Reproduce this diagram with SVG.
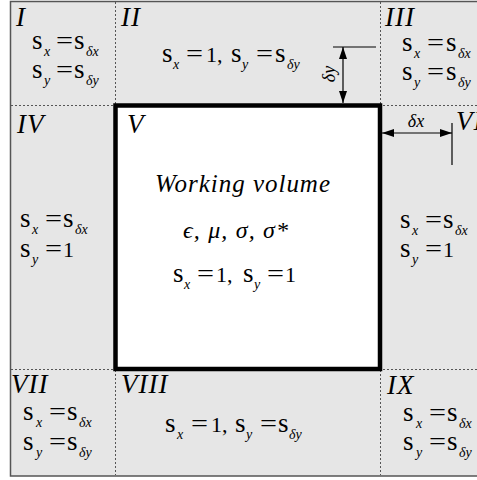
<svg xmlns="http://www.w3.org/2000/svg" width="477" height="480" viewBox="0 0 477 480">
<style>
text{font-family:"Liberation Serif","DejaVu Serif",serif;fill:#000}
.s{font-size:27px}
.d{font-size:22px}
.eq{font-size:25px}
.sb{font-size:14px;font-style:italic}
.rn{font-size:27px;font-style:italic;letter-spacing:1px}
.t{font-size:25px;font-style:italic}
.g{font-size:24px;font-style:italic}
.dim{font-size:18px;font-style:italic}
.dot{stroke:#555;stroke-width:1;stroke-dasharray:2 2;fill:none}
.ln{stroke:#000;stroke-width:1.2;fill:none}
</style>
<defs>
<marker id="ah" viewBox="0 0 12 8" refX="12" refY="4" markerWidth="12" markerHeight="8" markerUnits="userSpaceOnUse" orient="auto-start-reverse"><path d="M0,0 L12,4 L0,8 z" fill="#000"/></marker>
</defs>
<rect x="10.5" y="1.5" width="480" height="474.5" fill="#e6e6e6" stroke="#555" stroke-width="1.5"/>
<g id="grid">
<line class="dot" x1="115.5" y1="2" x2="115.5" y2="475"/>
<line class="dot" x1="380.5" y1="2" x2="380.5" y2="475"/>
<line class="dot" x1="11" y1="105.5" x2="477" y2="105.5"/>
<line class="dot" x1="11" y1="369.5" x2="477" y2="369.5"/>
</g>
<g id="region-V">
<rect x="115.5" y="105.5" width="264.5" height="263.5" fill="#fff" stroke="#000" stroke-width="4.5"/>
<text class="rn" x="127" y="133">V</text>
<text class="t" x="155" y="192" textLength="175" lengthAdjust="spacing">Working volume</text>
<text class="g" x="183" y="238" textLength="105" lengthAdjust="spacing">ϵ, μ, σ, σ*</text>
<text class="s" x="173" y="282">s</text><text class="sb" x="184" y="289">x</text><text class="eq" x="197" y="282" textLength="17" lengthAdjust="spacingAndGlyphs">=</text><text class="d" x="216" y="282">1,</text>
<text class="s" x="243" y="282">s</text><text class="sb" x="254" y="289">y</text><text class="eq" x="267" y="282" textLength="17" lengthAdjust="spacingAndGlyphs">=</text><text class="d" x="285" y="282">1</text>
</g>
<g id="region-I">
<text class="rn" x="16" y="26">I</text>
<text class="s" x="32" y="49">s</text><text class="sb" x="44" y="56">x</text><text class="eq" x="56" y="49" textLength="17" lengthAdjust="spacingAndGlyphs">=</text><text class="s" x="74" y="49">s</text><text class="sb" x="86" y="56">δx</text>
<text class="s" x="32" y="78">s</text><text class="sb" x="44" y="85">y</text><text class="eq" x="56" y="78" textLength="17" lengthAdjust="spacingAndGlyphs">=</text><text class="s" x="74" y="78">s</text><text class="sb" x="86" y="85">δy</text>
</g>
<g id="region-II">
<text class="rn" x="121" y="26">II</text>
<text class="s" x="162" y="62">s</text><text class="sb" x="173" y="69">x</text><text class="eq" x="186" y="62" textLength="17" lengthAdjust="spacingAndGlyphs">=</text><text class="d" x="206" y="62">1,</text>
<text class="s" x="231" y="62">s</text><text class="sb" x="242" y="69">y</text><text class="eq" x="256" y="62" textLength="17" lengthAdjust="spacingAndGlyphs">=</text><text class="s" x="275" y="62">s</text><text class="sb" x="287" y="69">δy</text>
</g>
<g id="region-III">
<text class="rn" x="385" y="26">III</text>
<text class="s" x="402" y="51">s</text><text class="sb" x="414" y="58">x</text><text class="eq" x="427" y="51" textLength="17" lengthAdjust="spacingAndGlyphs">=</text><text class="s" x="446" y="51">s</text><text class="sb" x="458" y="58">δx</text>
<text class="s" x="402" y="80">s</text><text class="sb" x="414" y="87">y</text><text class="eq" x="427" y="80" textLength="17" lengthAdjust="spacingAndGlyphs">=</text><text class="s" x="446" y="80">s</text><text class="sb" x="458" y="87">δy</text>
</g>
<g id="region-IV">
<text class="rn" x="17" y="133">IV</text>
<text class="s" x="20" y="227">s</text><text class="sb" x="32" y="234">x</text><text class="eq" x="45" y="227" textLength="17" lengthAdjust="spacingAndGlyphs">=</text><text class="s" x="63" y="227">s</text><text class="sb" x="75" y="234">δx</text>
<text class="s" x="20" y="257">s</text><text class="sb" x="32" y="264">y</text><text class="eq" x="45" y="257" textLength="17" lengthAdjust="spacingAndGlyphs">=</text><text class="d" x="63" y="257">1</text>
</g>
<g id="region-VI">
<text class="rn" x="456" y="130">VI</text>
<text class="s" x="400" y="228">s</text><text class="sb" x="412" y="235">x</text><text class="eq" x="425" y="228" textLength="17" lengthAdjust="spacingAndGlyphs">=</text><text class="s" x="443" y="228">s</text><text class="sb" x="455" y="235">δx</text>
<text class="s" x="400" y="257">s</text><text class="sb" x="412" y="264">y</text><text class="eq" x="425" y="257" textLength="17" lengthAdjust="spacingAndGlyphs">=</text><text class="d" x="443" y="257">1</text>
</g>
<g id="region-VII">
<text class="rn" x="11" y="393">VII</text>
<text class="s" x="23" y="420">s</text><text class="sb" x="36" y="427">x</text><text class="eq" x="49" y="420" textLength="17" lengthAdjust="spacingAndGlyphs">=</text><text class="s" x="67" y="420">s</text><text class="sb" x="79" y="427">δx</text>
<text class="s" x="23" y="450">s</text><text class="sb" x="36" y="457">y</text><text class="eq" x="49" y="450" textLength="17" lengthAdjust="spacingAndGlyphs">=</text><text class="s" x="67" y="450">s</text><text class="sb" x="79" y="457">δy</text>
</g>
<g id="region-VIII">
<text class="rn" x="121" y="393">VIII</text>
<text class="s" x="165" y="432">s</text><text class="sb" x="177" y="439">x</text><text class="eq" x="191" y="432" textLength="17" lengthAdjust="spacingAndGlyphs">=</text><text class="d" x="211" y="432">1,</text>
<text class="s" x="235" y="432">s</text><text class="sb" x="246" y="439">y</text><text class="eq" x="260" y="432" textLength="17" lengthAdjust="spacingAndGlyphs">=</text><text class="s" x="278" y="432">s</text><text class="sb" x="289" y="439">δy</text>
</g>
<g id="region-IX">
<text class="rn" x="387" y="394">IX</text>
<text class="s" x="403" y="421">s</text><text class="sb" x="416" y="428">x</text><text class="eq" x="429" y="421" textLength="17" lengthAdjust="spacingAndGlyphs">=</text><text class="s" x="447" y="421">s</text><text class="sb" x="459" y="428">δx</text>
<text class="s" x="403" y="450">s</text><text class="sb" x="416" y="457">y</text><text class="eq" x="429" y="450" textLength="17" lengthAdjust="spacingAndGlyphs">=</text><text class="s" x="447" y="450">s</text><text class="sb" x="459" y="457">δy</text>
</g>
<g id="connectors">
<line class="ln" x1="333" y1="47" x2="376" y2="47"/>
<line class="ln" x1="343" y1="47" x2="343" y2="103" marker-start="url(#ah)" marker-end="url(#ah)"/>
<text class="dim" text-anchor="middle" transform="translate(335,74) rotate(-90)">δy</text>
<line class="ln" x1="452" y1="123" x2="452" y2="165"/>
<line class="ln" x1="382" y1="133" x2="452" y2="133" marker-start="url(#ah)" marker-end="url(#ah)"/>
<text class="dim" x="416" y="127" text-anchor="middle">δx</text>
</g>
</svg>
